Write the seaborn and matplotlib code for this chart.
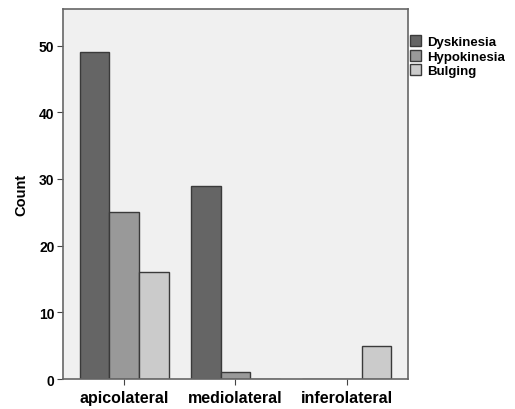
import pandas as pd
import matplotlib.pyplot as plt
import seaborn as sns

# valeurs
regions = ["apicolateral", "mediolateral", "inferolateral"]
types = ["Dyskinesia", "Hypokinesia", "Bulging"]
dyskinesia = [49, 29, 0]
hypokinesia = [25, 1, 0]
bulging = [16, 0, 5]

couleurs = ["#656565", "#999999", "#cbcbcb"]

df = pd.DataFrame({
    "region": regions * 3,
    "type": [t for t in types for _ in regions],
    "count": dyskinesia + hypokinesia + bulging,
})

sns.set_style("white")
plt.rcParams["font.family"] = ["Liberation Sans", "DejaVu Sans"]
plt.rcParams["text.color"] = "black"
plt.rcParams["xtick.color"] = "black"
plt.rcParams["ytick.color"] = "black"
plt.rcParams["axes.labelcolor"] = "black"

fig = plt.figure(figsize=(5.15, 4.1), dpi=100)
ax = fig.add_axes([0.122, 0.073, 0.670, 0.903])
ax.set_facecolor("#f0f0f0")

sns.barplot(data=df, x="region", y="count", hue="type", order=regions,
            hue_order=types, palette=couleurs, width=0.8,
            edgecolor="#3a3a3a", linewidth=1.0, saturation=1, ax=ax)

ax.set_xlim(-0.55, 2.55)
ax.set_ylim(0, 55.5)
ax.set_yticks([0, 10, 20, 30, 40, 50])
ax.set_xlabel("")
ax.set_ylabel("Count", fontsize=10.5, fontweight="bold", labelpad=8)
ax.tick_params(axis="x", labelsize=11.5, length=4, color="#444444", pad=4)
ax.tick_params(axis="y", labelsize=10, length=4, color="#444444", pad=2)
for lab in ax.get_xticklabels() + ax.get_yticklabels():
    lab.set_fontweight("bold")
ax.tick_params(bottom=True, left=True)
for s in ax.spines.values():
    s.set_color("#666666")
    s.set_linewidth(1.2)

handles, labels = ax.get_legend_handles_labels()
ax.get_legend().remove()
leg = fig.legend(handles, labels, loc="upper left", bbox_to_anchor=(0.785, 0.925),
                 frameon=False, fontsize=9.5, handlelength=0.9, handleheight=0.9,
                 handletextpad=0.4, labelspacing=0.12, borderaxespad=0)
for t in leg.get_texts():
    t.set_fontweight("bold")

plt.savefig("out.png", dpi=100)
plt.close()
